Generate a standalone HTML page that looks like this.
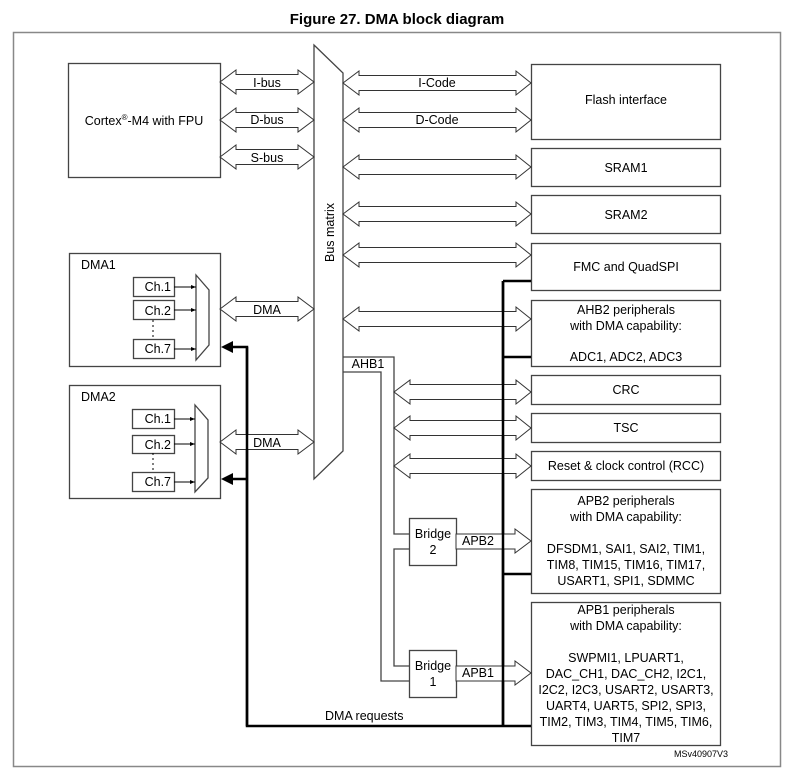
<!DOCTYPE html>
<html><head><meta charset="utf-8"><style>
html,body{margin:0;padding:0;background:#fff}
svg{display:block}
text{font-family:"Liberation Sans",Arial,sans-serif;font-size:12.5px;fill:#000}
</style></head><body>
<svg width="795" height="779" viewBox="0 0 795 779" xmlns="http://www.w3.org/2000/svg">
<text x="397" y="24" text-anchor="middle" style="font-weight:bold;font-size:15px">Figure 27. DMA block diagram</text>
<rect x="13.5" y="32.5" width="767" height="734" fill="none" stroke="#888" stroke-width="1.5"/>
<g fill="none" stroke="#444" stroke-width="1.3">
<rect x="68.5" y="63.5" width="152" height="114"/>
<rect x="69.5" y="253.5" width="151" height="113"/>
<rect x="69.5" y="385.5" width="151" height="113"/>
<rect x="531.5" y="64.5" width="189" height="75"/>
<rect x="531.5" y="148.5" width="189" height="38"/>
<rect x="531.5" y="195.5" width="189" height="38"/>
<rect x="531.5" y="243.5" width="189" height="47"/>
<rect x="531.5" y="300.5" width="189" height="66"/>
<rect x="531.5" y="375.5" width="189" height="29"/>
<rect x="531.5" y="413.5" width="189" height="29"/>
<rect x="531.5" y="451.5" width="189" height="29"/>
<rect x="531.5" y="489.5" width="189" height="104"/>
<rect x="531.5" y="602.5" width="189" height="143"/>
<rect x="409.5" y="518.5" width="47" height="47"/>
<rect x="409.5" y="650.5" width="47" height="47"/>
<rect x="133.5" y="277.5" width="41" height="19"/>
<rect x="133.5" y="300.5" width="41" height="19"/>
<rect x="133.5" y="339.5" width="41" height="19"/>
<rect x="132.5" y="409.5" width="42" height="19"/>
<rect x="132.5" y="435.5" width="42" height="18"/>
<rect x="132.5" y="472.5" width="42" height="19"/>
<polygon points="196,275 209,290 209,345 196,360"/>
<polygon points="195,405 208,420 208,478 195,492"/>
<polygon points="314,45 343,73 343,451 314,479"/>
<polyline points="343,357 394,357 394,534 409,534"/>
<polyline points="343,372 381,372 381,681 409,681"/>
<polyline points="409,549 394,549 394,666 409,666"/>
</g>
<g stroke="#000" stroke-width="1" fill="none">
<line x1="174" y1="287" x2="196" y2="287"/><line x1="174" y1="310" x2="196" y2="310"/><line x1="174" y1="349" x2="196" y2="349"/>
<line x1="174" y1="419" x2="195" y2="419"/><line x1="174" y1="444" x2="195" y2="444"/><line x1="174" y1="482" x2="195" y2="482"/>
<line x1="153" y1="320" x2="153" y2="339" stroke-dasharray="2,3"/>
<line x1="153" y1="453" x2="153" y2="472" stroke-dasharray="2,3"/>
</g>
<g fill="#000">
<polygon points="196,287 191,285 191,289"/><polygon points="196,310 191,308 191,312"/><polygon points="196,349 191,347 191,351"/>
<polygon points="195,419 190,417 190,421"/><polygon points="195,444 190,442 190,446"/><polygon points="195,482 190,480 190,484"/>
</g>
<!-- thick lines -->
<g stroke="#000" stroke-width="2.5" fill="none">
<polyline points="531,726 247,726 247,347 232,347"/>
<line x1="247" y1="479" x2="232" y2="479"/>
<line x1="503" y1="281" x2="503" y2="727"/>
<line x1="503" y1="281" x2="531" y2="281"/>
<line x1="503" y1="357" x2="531" y2="357"/>
<line x1="503" y1="574" x2="531" y2="574"/>
</g>
<polygon points="221,347 233,341 233,353" fill="#000"/>
<polygon points="221,479 233,473 233,485" fill="#000"/>
<!-- double arrows -->
<g fill="#fff" stroke="#333" stroke-width="1">
<polygon points="220,82 236,70 236,74.5 298,74.5 298,70 314,82 298,94 298,89.5 236,89.5 236,94"/>
<polygon points="220,120 236,108 236,112.5 298,112.5 298,108 314,120 298,132 298,127.5 236,127.5 236,132"/>
<polygon points="220,157 236,145 236,149.5 298,149.5 298,145 314,157 298,169 298,164.5 236,164.5 236,169"/>
<polygon points="220,309 236,297 236,301.5 298,301.5 298,297 314,309 298,321 298,316.5 236,316.5 236,321"/>
<polygon points="220,442 236,430 236,434.5 298,434.5 298,430 314,442 298,454 298,449.5 236,449.5 236,454"/>
<polygon points="343,83 359,71 359,75.5 516,75.5 516,71 531,83 516,95 516,90.5 359,90.5 359,95"/>
<polygon points="343,120 359,108 359,112.5 516,112.5 516,108 531,120 516,132 516,127.5 359,127.5 359,132"/>
<polygon points="343,167 359,155 359,159.5 516,159.5 516,155 531,167 516,179 516,174.5 359,174.5 359,179"/>
<polygon points="343,214 359,202 359,206.5 516,206.5 516,202 531,214 516,226 516,221.5 359,221.5 359,226"/>
<polygon points="343,255 359,243 359,247.5 516,247.5 516,243 531,255 516,267 516,262.5 359,262.5 359,267"/>
<polygon points="343,319 359,307 359,311.5 516,311.5 516,307 531,319 516,331 516,326.5 359,326.5 359,331"/>
<polygon points="394,392 410,380 410,384.5 516,384.5 516,380 531,392 516,404 516,399.5 410,399.5 410,404"/>
<polygon points="394,428 410,416 410,420.5 516,420.5 516,416 531,428 516,440 516,435.5 410,435.5 410,440"/>
<polygon points="394,466 410,454 410,458.5 516,458.5 516,454 531,466 516,478 516,473.5 410,473.5 410,478"/>
<polygon points="456,534 515,534 515,529 531,541 515,553 515,549 456,549"/>
<polygon points="456,666 515,666 515,661 531,673 515,685 515,681 456,681"/>
</g>
<g stroke="#000" stroke-width="2.5"><line x1="503" y1="249" x2="503" y2="727" stroke="none"/></g>
<!-- thick vertical over arrows -->
<line x1="503" y1="281" x2="503" y2="727" stroke="#000" stroke-width="2.5"/>
<line x1="247" y1="347" x2="247" y2="726" stroke="#000" stroke-width="2.5"/>
<!-- labels -->
<text x="144" y="125" text-anchor="middle">Cortex<tspan font-size="8" dy="-5">®</tspan><tspan dy="5">-M4 with FPU</tspan></text>
<text x="267" y="87" text-anchor="middle">I-bus</text>
<text x="267" y="124" text-anchor="middle">D-bus</text>
<text x="267" y="162" text-anchor="middle">S-bus</text>
<text x="267" y="314" text-anchor="middle">DMA</text>
<text x="267" y="447" text-anchor="middle">DMA</text>
<text x="81" y="269">DMA1</text>
<text x="81" y="401">DMA2</text>
<g text-anchor="end"><text x="171" y="291">Ch.1</text><text x="171" y="315">Ch.2</text><text x="171" y="353">Ch.7</text>
<text x="171" y="423">Ch.1</text><text x="171" y="449">Ch.2</text><text x="171" y="486">Ch.7</text></g>
<text transform="translate(334,262) rotate(-90)" text-anchor="start">Bus matrix</text>
<text x="437" y="87" text-anchor="middle">I-Code</text>
<text x="437" y="124" text-anchor="middle">D-Code</text>
<text x="368" y="368" text-anchor="middle">AHB1</text>
<g text-anchor="middle">
<text x="626" y="104">Flash interface</text>
<text x="626" y="172">SRAM1</text>
<text x="626" y="219">SRAM2</text>
<text x="626" y="271">FMC and QuadSPI</text>
<text x="626" y="314">AHB2 peripherals</text>
<text x="626" y="330">with DMA capability:</text>
<text x="626" y="361">ADC1, ADC2, ADC3</text>
<text x="626" y="394">CRC</text>
<text x="626" y="432">TSC</text>
<text x="626" y="470">Reset &amp; clock control (RCC)</text>
<text x="626" y="505">APB2 peripherals</text>
<text x="626" y="521">with DMA capability:</text>
<text x="626" y="553">DFSDM1, SAI1, SAI2, TIM1,</text>
<text x="626" y="569">TIM8, TIM15, TIM16, TIM17,</text>
<text x="626" y="585">USART1, SPI1, SDMMC</text>
<text x="626" y="614">APB1 peripherals</text>
<text x="626" y="630">with DMA capability:</text>
<text x="626" y="662">SWPMI1, LPUART1,</text>
<text x="626" y="678">DAC_CH1, DAC_CH2, I2C1,</text>
<text x="626" y="694">I2C2, I2C3, USART2, USART3,</text>
<text x="626" y="710">UART4, UART5, SPI2, SPI3,</text>
<text x="626" y="726">TIM2, TIM3, TIM4, TIM5, TIM6,</text>
<text x="626" y="742">TIM7</text>
<text x="433" y="538">Bridge</text><text x="433" y="554">2</text>
<text x="433" y="670">Bridge</text><text x="433" y="686">1</text>
</g>
<text x="462" y="545">APB2</text>
<text x="462" y="677">APB1</text>
<text x="325" y="720">DMA requests</text>
<text x="728" y="757" text-anchor="end" style="font-size:9px">MSv40907V3</text>
</svg>
</body></html>
